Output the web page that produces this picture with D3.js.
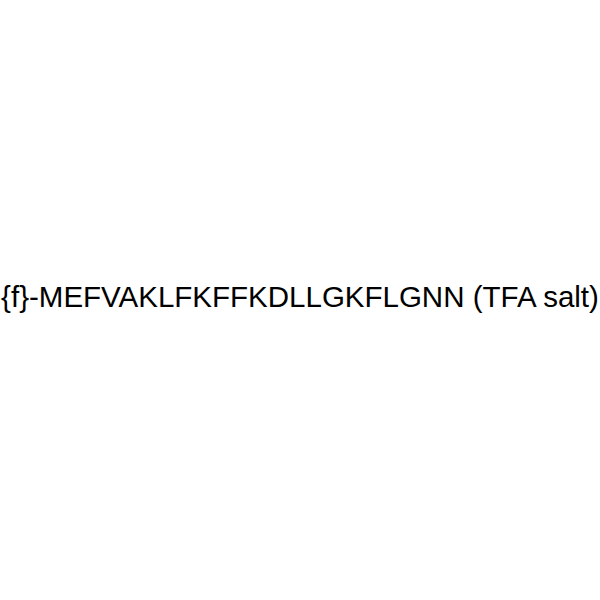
<!DOCTYPE html>
<html><head><meta charset="utf-8">
<script src="https://cdn.jsdelivr.net/npm/d3@7"></script>
<style>html,body{margin:0;padding:0;background:#fff;}</style>
</head><body>
<script>
const titles = ["{f}-MEFVAKLFKFFKDLLGKFLGNN (TFA salt)"];
const W = 600, H = 600;
const svg = d3.select("body").append("svg").attr("width", W).attr("height", H);
svg.append("rect").attr("width", W).attr("height", H).attr("fill", "#fff");
svg.selectAll("text.t").data(titles).join("text")
  .attr("class", "t")
  .attr("x", W / 2)
  .attr("y", 307)
  .attr("text-anchor", "middle")
  .attr("font-family", "Liberation Sans, Arial, sans-serif")
  .attr("font-size", 29.5)
  .attr("fill", "#000")
  .text(d => d);
</script>
</body></html>
